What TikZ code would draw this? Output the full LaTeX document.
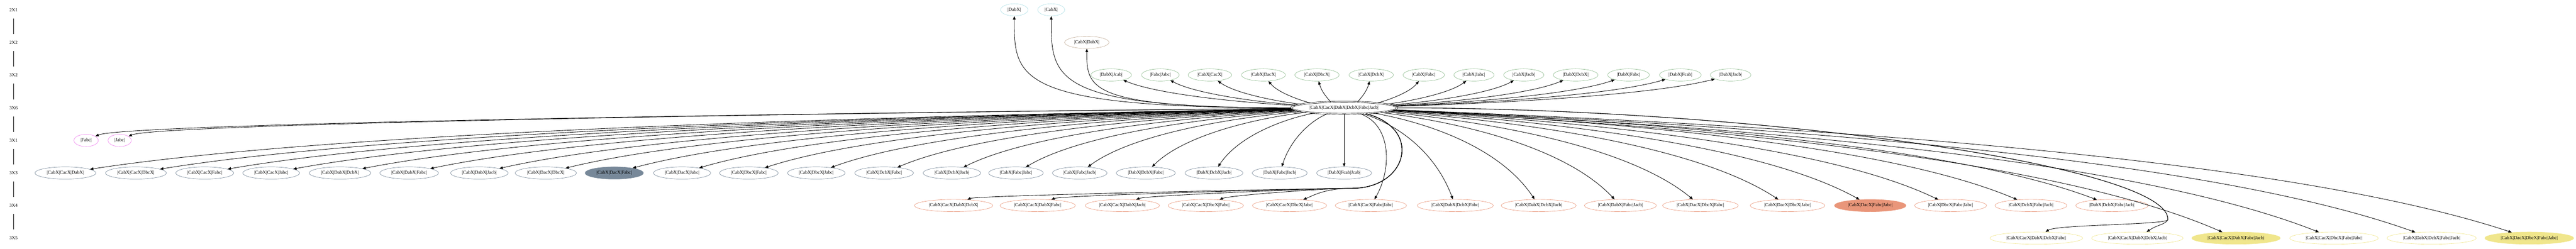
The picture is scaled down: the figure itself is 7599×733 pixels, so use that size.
\documentclass[tikz,border=0pt]{standalone}
\usepackage{fontspec}
\setmainfont{Liberation Serif}
\usetikzlibrary{shapes.geometric, arrows.meta, calc}
\definecolor{cpowder}{HTML}{B0E0E6}
\definecolor{csand}{HTML}{C4B09C}
\definecolor{csea}{HTML}{8FBC8F}
\definecolor{cviolet}{HTML}{EE82EE}
\definecolor{cslate}{HTML}{778899}
\definecolor{csalmon}{HTML}{E9967A}
\definecolor{ckhaki}{HTML}{F0E68C}

\begin{document}
\begin{tikzpicture}[x=1pt, y=1pt,
    every node/.style={font=\fontsize{14}{16}\selectfont},
    ranklab/.style={minimum height=50pt},
    oval/.style={ellipse, draw, line width=1pt, inner xsep=9pt, inner ysep=2pt, minimum height=36pt},
    hub/.style={oval, double, double distance=2.5pt},
    link/.style={line width=1.3pt, -{Triangle[length=10pt,width=8pt]}},
    rise/.style={to path={.. controls (\tikztotarget|-\tikztostart) and ($(\tikztotarget)!0.7!(\tikztotarget|-\tikztostart)$) .. (\tikztotarget)}},
    fan/.style={to path={.. controls ($(\tikztostart)!0.5!(\tikztotarget|-\tikztostart)!0.15!(\tikztostart|-\tikztotarget)$) and ($(\tikztotarget)!0.5!(\tikztotarget|-\tikztostart)!#1!(\tikztostart)$) .. (\tikztotarget)}},
    hookleft/.style={to path={.. controls ($(\tikztostart)+(235,-62)$) and ($(#1)+(160,0)$) .. (#1) .. controls ($(#1)+(-80,0)$) and ($(\tikztotarget)+(70,30)$) .. (\tikztotarget)}},
    hookdown/.style={to path={.. controls ($(\tikztostart)!0.5!(#1|-\tikztostart)$) and ($(#1)+(8,160)$) .. (#1) .. controls ($(#1)+(-10,-15)$) and ($(\tikztotarget)+(60,40)$) .. (\tikztotarget)}}]
    \useasboundingbox (0,0) rectangle (7599,-733);

    \foreach \r/\y [count=\i] in {2X1/29, 2X2/125, 3X2/221, 3X6/318, 3X1/414, 3X3/510, 3X4/606, 3X5/702}
        \node[ranklab] (rk\i) at (40,-\y) {\r};
    \foreach \i [remember=\i as \last (initially 1)] in {2,...,8}
        \draw[line width=1.3pt] (rk\last) -- (rk\i);

    \node[hub] (core) at (3965,-318) {|CabX|CacX|DabX|DcbX|Fabc|Jacb|};

    \foreach \x/\lab [count=\i] in {2992/|DabX|, 3101/|CabX|}
        \node[oval, draw=cpowder] (v\i) at (\x,-29) {\lab};
    \node[oval, draw=csand] (w1) at (3206,-125) {|CabX|DabX|};
    \foreach \x/\lab [count=\i] in {3278/|DabX|Jcab|, 3423/|Fabc|Jabc|, 3569/|CabX|CacX|, 3727/|CabX|DacX|,
        3885/|CabX|DbcX|, 4045/|CabX|DcbX|, 4200/|CabX|Fabc|, 4348/|CabX|Jabc|, 4495/|CabX|Jacb|,
        4648/|DabX|DcbX|, 4804/|DabX|Fabc|, 4957/|DabX|Fcab|, 5105/|DabX|Jacb|}
        \node[oval, draw=csea] (p\i) at (\x,-221) {\lab};
    \foreach \x/\lab [count=\i] in {254/|Fabc|, 353/|Jabc|}
        \node[oval, draw=cviolet] (s\i) at (\x,-414) {\lab};
    \foreach \x/\lab/\fc [count=\i] in {193/|CabX|CacX|DabX|/none, 401/|CabX|CacX|DbcX|/none,
        604/|CabX|CacX|Fabc|/none, 800/|CabX|CacX|Jabc|/none, 1003/|CabX|DabX|DcbX|/none,
        1207/|CabX|DabX|Fabc|/none, 1414/|CabX|DabX|Jacb|/none, 1610/|CabX|DacX|DbcX|/none,
        1812/|CabX|DacX|Fabc|/cslate, 2012/|CabX|DacX|Jabc|/none, 2209/|CabX|DbcX|Fabc|/none,
        2408/|CabX|DbcX|Jabc|/none, 2608/|CabX|DcbX|Fabc|/none, 2808/|CabX|DcbX|Jacb|/none,
        2997/|CabX|Fabc|Jabc|/none, 3185/|CabX|Fabc|Jacb|/none, 3380/|DabX|DcbX|Fabc|/none,
        3581/|DabX|DcbX|Jacb|/none, 3775/|DabX|Fabc|Jacb|/none, 3965/|DabX|Fcab|Jcab|/none}
        \node[oval, draw=cslate, fill=\fc] (t\i) at (\x,-510) {\lab};
    \foreach \x/\lab/\fc [count=\i] in {2813/|CabX|CacX|DabX|DcbX|/none, 3061/|CabX|CacX|DabX|Fabc|/none,
        3311/|CabX|CacX|DabX|Jacb|/none, 3557/|CabX|CacX|DbcX|Fabc|/none, 3804/|CabX|CacX|DbcX|Jabc|/none,
        4044/|CabX|CacX|Fabc|Jabc|/none, 4293/|CabX|DabX|DcbX|Fabc|/none, 4539/|CabX|DabX|DcbX|Jacb|/none,
        4780/|CabX|DabX|Fabc|Jacb|/none, 5016/|CabX|DacX|DbcX|Fabc|/none, 5273/|CabX|DacX|DbcX|Jabc|/none,
        5517/|CabX|DacX|Fabc|Jabc|/csalmon, 5754/|CabX|DbcX|Fabc|Jabc|/none, 5991/|CabX|DcbX|Fabc|Jacb|/none,
        6230/|DabX|DcbX|Fabc|Jacb|/none}
        \node[oval, draw=csalmon, fill=\fc] (q\i) at (\x,-606) {\lab};
    \foreach \x/\lab/\fc [count=\i] in {6007/|CabX|CacX|DabX|DcbX|Fabc|/none, 6305/|CabX|CacX|DabX|DcbX|Jacb|/none,
        6596/|CabX|CacX|DabX|Fabc|Jacb|/ckhaki, 6885/|CabX|CacX|DbcX|Fabc|Jabc|/none,
        7173/|CabX|DabX|DcbX|Fabc|Jacb|/none, 7461/|CabX|DacX|DbcX|Fabc|Jabc|/ckhaki}
        \node[oval, draw=ckhaki, fill=\fc] (f\i) at (\x,-702) {\lab};

    \coordinate (gl) at (3990,-555);
    \coordinate (gd) at (6395,-648);

    \foreach \n in {v1, v2, w1}
        \draw[link, rise] (core) to (\n);
    \foreach \i in {1,...,13}
        \draw[link, fan=0.2] (core) to (p\i);
    \foreach \i in {1,2}
        \draw[link, fan=0.03] (core) to (s\i);
    \foreach \i in {1,...,20}
        \draw[link, fan=0.2] (core) to (t\i);
    \foreach \i in {1,...,5}
        \draw[link, hookleft=gl] (core) to (q\i);
    \draw[link] (core) to[out=-20, in=60] (q6);
    \foreach \i in {7,...,15}
        \draw[link, fan=0.2] (core) to (q\i);
    \foreach \i in {1,2}
        \draw[link, hookdown=gd] (core) to (f\i);
    \foreach \i in {3,...,6}
        \draw[link, fan=0.2] (core) to (f\i);
\end{tikzpicture}
\end{document}
